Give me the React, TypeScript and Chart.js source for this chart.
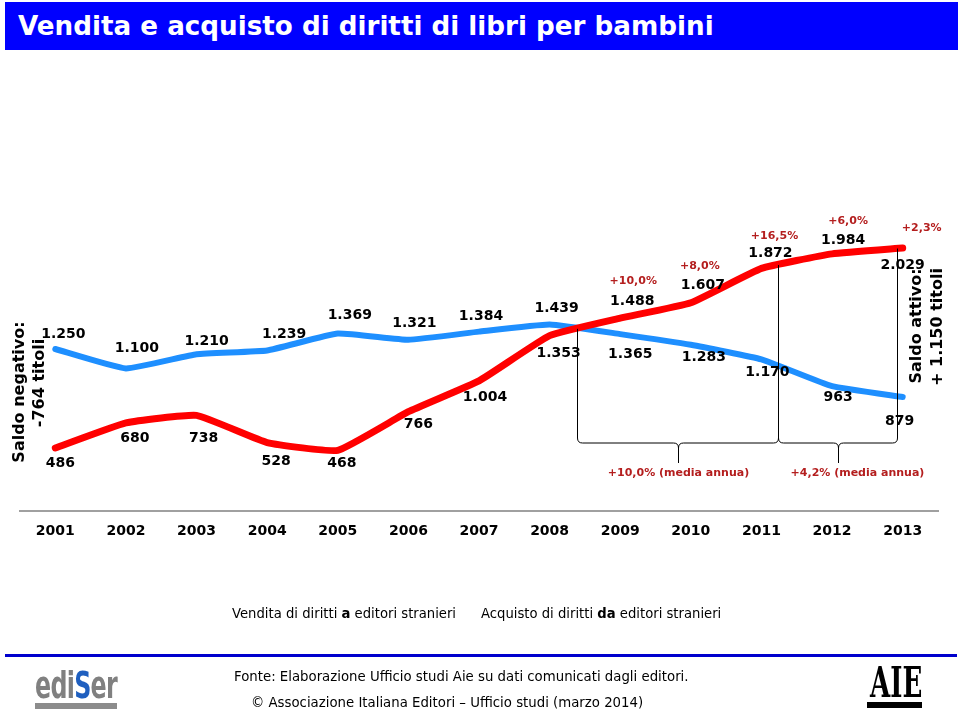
import React, { useEffect, useRef } from "react";
import { Chart, registerables } from "chart.js";

Chart.register(...registerables);

// ---- data ----
const years = ["2001", "2002", "2003", "2004", "2005", "2006", "2007", "2008", "2009", "2010", "2011", "2012", "2013"];
const vendita = [486, 680, 738, 528, 468, 766, 1004, 1353, 1488, 1607, 1872, 1984, 2029];
const acquisto = [1250, 1100, 1210, 1239, 1369, 1321, 1384, 1439, 1365, 1283, 1170, 963, 879];
const venditaGrowth = ["", "", "", "", "", "", "", "", "+10,0%", "+8,0%", "+16,5%", "+6,0%", "+2,3%"];
const periodLabels = ["+10,0% (media annua)", "+4,2% (media annua)"];
const saldoNegativo = ["Saldo negativo:", "-764 titoli"];
const saldoAttivo = ["Saldo attivo:", "+ 1.150 titoli"];
const legendVendita = ["Vendita di diritti ", "a", " editori stranieri"];
const legendAcquisto = ["Acquisto di diritti ", "da", " editori stranieri"];

// ---- label layout (pixel offsets from each point) ----
const venditaLabelOffsets = [[5, 15], [9, 15], [7, 23], [9, 19], [4, 13], [10, 13], [6, 16], [9, 18], [12, -17], [12, -17], [9, -15], [11, -14], [0, 17]];
const acquistoLabelOffsets = [[8, -15], [11, -20], [10, -13], [17, -16], [12, -18], [6, -16], [2, -15], [7, -16], [10, 20], [13, 13], [6, 13], [6, 11], [-3, 24]];
const growthLabelOffsets = [[0, 0], [0, 0], [0, 0], [0, 0], [0, 0], [0, 0], [0, 0], [0, 0], [13, -37], [9, -37], [13, -32], [16, -33], [19, -20]];
const bracketEdges = [7.39, 10.23, 11.92];
const periodLabelShift = [0, 19];

const RED = "#FF0000";
const BLUE = "#1E8FFF";
const DARKRED = "#B41E1E";
const FONT = '"DejaVu Sans", Verdana, sans-serif';

const fmt = (v: number) =>
  v >= 1000 ? `${Math.floor(v / 1000)}.${String(v % 1000).padStart(3, "0")}` : String(v);

const interp = (arr: number[], idx: number) => {
  const i = Math.floor(idx);
  const f = idx - i;
  if (i >= arr.length - 1) return arr[arr.length - 1];
  return arr[i] + f * (arr[i + 1] - arr[i]);
};

const annotPlugin = {
  id: "annot",
  afterDatasetsDraw(chart: any) {
    const ctx: CanvasRenderingContext2D = chart.ctx;
    const xS = chart.scales.x;
    const yS = chart.scales.y;
    const area = chart.chartArea;
    ctx.save();

    // brackets
    ctx.strokeStyle = "#000";
    ctx.lineWidth = 1;
    const yB = area.bottom - 68;
    const yTip = area.bottom - 48;
    const r = 5;
    const xs = bracketEdges.map((e) => xS.getPixelForValue(e));
    xs.forEach((x, k) => {
      const top = yS.getPixelForValue(interp(vendita, bracketEdges[k]));
      ctx.beginPath();
      ctx.moveTo(Math.round(x) + 0.5, top);
      ctx.lineTo(Math.round(x) + 0.5, yB - r);
      ctx.stroke();
    });
    for (let k = 0; k < xs.length - 1; k++) {
      const xL = Math.round(xs[k]) + 0.5;
      const xR = Math.round(xs[k + 1]) + 0.5;
      const xM = Math.round((xL + xR) / 2) + 0.5;
      ctx.beginPath();
      ctx.moveTo(xL, yB - r);
      ctx.quadraticCurveTo(xL, yB, xL + r, yB);
      ctx.lineTo(xM - r, yB);
      ctx.quadraticCurveTo(xM, yB, xM, yB + r);
      ctx.lineTo(xM, yTip);
      ctx.moveTo(xM, yB + r);
      ctx.quadraticCurveTo(xM, yB, xM + r, yB);
      ctx.lineTo(xR - r, yB);
      ctx.quadraticCurveTo(xR, yB, xR, yB - r);
      ctx.stroke();
      ctx.font = `bold 11px ${FONT}`;
      ctx.fillStyle = DARKRED;
      ctx.textAlign = "center";
      ctx.textBaseline = "middle";
      ctx.fillText(periodLabels[k], xM + periodLabelShift[k], yTip + 10);
    }

    // data labels
    ctx.font = `bold 14px ${FONT}`;
    ctx.fillStyle = "#000";
    ctx.textAlign = "center";
    ctx.textBaseline = "middle";
    const sets: [number, number[], number[][]][] = [
      [0, vendita, venditaLabelOffsets],
      [1, acquisto, acquistoLabelOffsets],
    ];
    sets.forEach(([di, vals, offs]) => {
      const meta = chart.getDatasetMeta(di);
      meta.data.forEach((pt: any, i: number) => {
        ctx.fillText(fmt(vals[i]), pt.x + offs[i][0], pt.y + offs[i][1]);
      });
    });

    // growth labels
    ctx.font = `bold 11px ${FONT}`;
    ctx.fillStyle = DARKRED;
    const metaV = chart.getDatasetMeta(0);
    metaV.data.forEach((pt: any, i: number) => {
      if (!venditaGrowth[i]) return;
      ctx.fillText(venditaGrowth[i], pt.x + growthLabelOffsets[i][0], pt.y + growthLabelOffsets[i][1]);
    });

    // rotated side labels
    ctx.font = `bold 16px ${FONT}`;
    ctx.fillStyle = "#000";
    const rot = (text: string, cx: number, cy: number) => {
      ctx.save();
      ctx.translate(cx, cy);
      ctx.rotate(-Math.PI / 2);
      ctx.fillText(text, 0, 0);
      ctx.restore();
    };
    rot(saldoNegativo[0], 20, 392);
    rot(saldoNegativo[1], 40, 383);
    rot(saldoAttivo[0], 917, 326);
    rot(saldoAttivo[1], 938, 327);

    ctx.restore();
  },
};

export default function App() {
  const ref = useRef<HTMLCanvasElement | null>(null);

  useEffect(() => {
    document.body.style.margin = "0";
    const canvas = ref.current;
    if (!canvas) return;
    const chart = new Chart(canvas, {
      type: "line",
      data: {
        labels: years,
        datasets: [
          {
            label: "Vendita di diritti a editori stranieri",
            data: vendita,
            borderColor: RED,
            backgroundColor: RED,
            borderWidth: 7,
            pointRadius: 0,
            tension: 0.12,
            borderJoinStyle: "round",
            borderCapStyle: "round",
          },
          {
            label: "Acquisto di diritti da editori stranieri",
            data: acquisto,
            borderColor: BLUE,
            backgroundColor: BLUE,
            borderWidth: 6,
            pointRadius: 0,
            tension: 0.12,
            borderJoinStyle: "round",
            borderCapStyle: "round",
          },
        ],
      },
      options: {
        animation: false,
        responsive: false,
        layout: { padding: { left: 20, right: 22, top: 187, bottom: 163 } },
        plugins: {
          legend: { display: false },
          tooltip: { enabled: false },
        },
        scales: {
          x: {
            offset: true,
            grid: { display: false, drawTicks: false },
            border: { display: true, color: "#A0A0A0", width: 2 },
            ticks: {
              color: "#000",
              padding: 12,
              font: { family: FONT, weight: "bold", size: 14 },
            },
            afterFit: (s: any) => {
              s.height = 40;
            },
          },
          y: { display: false, min: 0, max: 2500 },
        },
      },
      plugins: [annotPlugin],
    } as any);
    return () => chart.destroy();
  }, []);

  const abs = (o: React.CSSProperties): React.CSSProperties => ({ position: "absolute", whiteSpace: "nowrap", ...o });

  return (
    <div style={{ position: "relative", width: 960, height: 714, overflow: "hidden", background: "#fff", fontFamily: FONT }}>
      <canvas ref={ref} width={960} height={714} style={{ position: "absolute", left: 0, top: 0, width: 960, height: 714 }} />
      {/* title */}
      <div style={abs({ left: 5, top: 2, width: 953, height: 48, background: "#0000FF" })}>
        <div style={abs({ left: 13, top: 2, color: "#fff", fontWeight: "bold", fontSize: 26.2, lineHeight: "44px", fontFamily: FONT })}>
          Vendita e acquisto di diritti di libri per bambini
        </div>
      </div>
      {/* legend */}
      <div style={abs({ left: 232, top: 606, fontSize: 13.2, lineHeight: "16px", color: "#000" })}>
        {legendVendita[0]}<b>{legendVendita[1]}</b>{legendVendita[2]}
      </div>
      <div style={abs({ left: 481, top: 606, fontSize: 13.2, lineHeight: "16px", color: "#000" })}>
        {legendAcquisto[0]}<b>{legendAcquisto[1]}</b>{legendAcquisto[2]}
      </div>
      {/* footer */}
      <div style={abs({ left: 5, top: 654, width: 952, height: 3, background: "#0000CD" })} />
      <div style={abs({ left: 234, top: 669, fontSize: 13.3, lineHeight: "16px", color: "#000" })}>
        Fonte: Elaborazione Ufficio studi Aie su dati comunicati dagli editori.
      </div>
      <div style={abs({ left: 251, top: 695, fontSize: 13.3, lineHeight: "16px", color: "#000" })}>
        © Associazione Italiana Editori – Ufficio studi (marzo 2014)
      </div>
      {/* ediSer logo */}
      <div style={abs({ left: 35, top: 666, fontFamily: '"DejaVu Sans Condensed", "DejaVu Sans", sans-serif', fontWeight: "bold", fontSize: 38, lineHeight: "38px", color: "#808080", transform: "scaleX(0.695)", transformOrigin: "left top", letterSpacing: -1 })}>
        edi<span style={{ color: "#1F5FBF" }}>S</span>er
      </div>
      <div style={abs({ left: 35, top: 703, width: 82, height: 6, background: "#8C8C8C" })} />
      {/* AIE logo */}
      <div style={abs({ left: 870, top: 662, fontFamily: '"DejaVu Serif", serif', fontWeight: "bold", fontSize: 42, lineHeight: "42px", color: "#000", transform: "scaleX(0.62)", transformOrigin: "left top" })}>
        AIE
      </div>
      <div style={abs({ left: 867, top: 702, width: 55, height: 6, background: "#000" })} />
    </div>
  );
}
